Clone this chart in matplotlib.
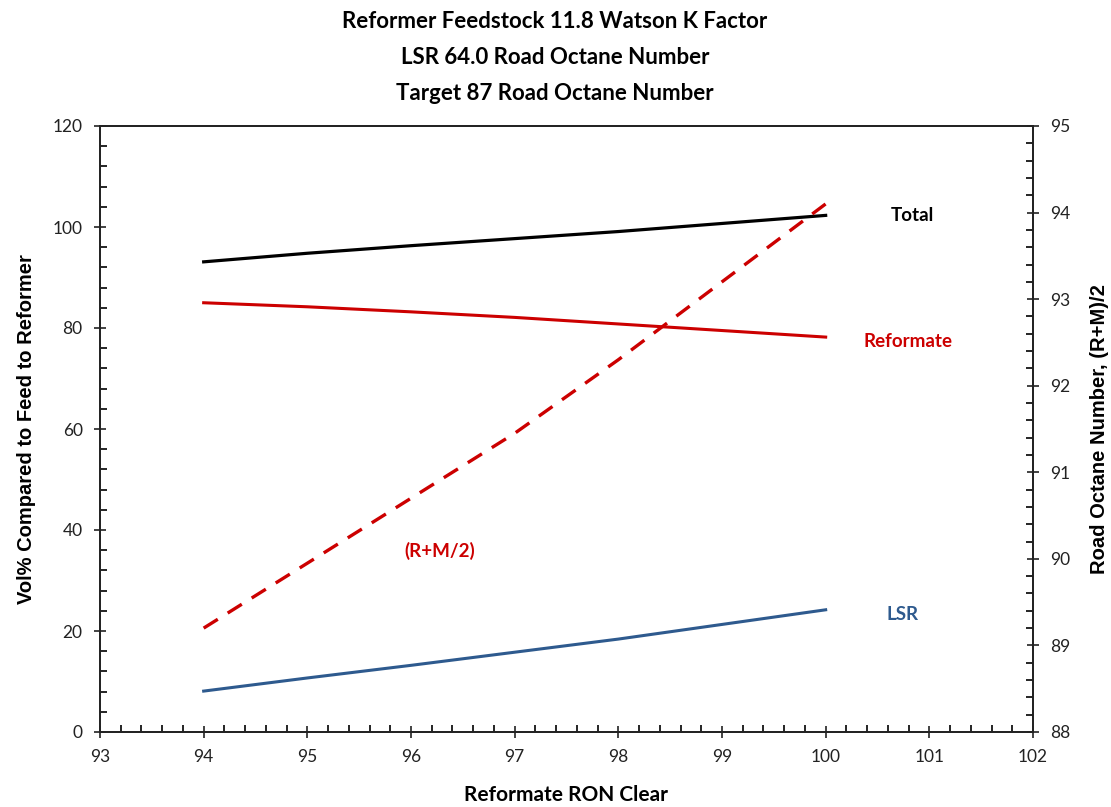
import matplotlib.pyplot as plt
from matplotlib.ticker import MultipleLocator

# data
ron = [94, 95, 96, 97, 98, 99, 100]
total = [93.1, 94.8, 96.3, 97.7, 99.1, 100.7, 102.3]
reformate = [85.0, 84.2, 83.2, 82.1, 80.8, 79.5, 78.2]
lsr = [8.1, 10.7, 13.2, 15.8, 18.4, 21.3, 24.2]
road_octane = [89.2, 89.95, 90.7, 91.45, 92.3, 93.2, 94.1]

titles = ["Reformer Feedstock 11.8 Watson K Factor",
          "LSR 64.0 Road Octane Number",
          "Target 87 Road Octane Number"]

W, H = 1111, 807
fig = plt.figure(figsize=(W / 100, H / 100), dpi=100)
ax = fig.add_axes([100 / W, 1 - 732 / H, 933 / W, 606 / H])
ax2 = ax.twinx()

red = "#CC0000"
blue = "#2E5A8E"

ax.plot(ron, total, color="black", lw=2.3)
ax.plot(ron, reformate, color=red, lw=2.2)
ax.plot(ron, lsr, color=blue, lw=2.2)
ax2.plot(ron, road_octane, color=red, lw=2.4, dashes=(5, 3.5))

ax.set_xlim(93, 102)
ax.set_ylim(0, 120)
ax2.set_ylim(88, 95)

ax.xaxis.set_major_locator(MultipleLocator(1))
ax.xaxis.set_minor_locator(MultipleLocator(0.2))
ax.yaxis.set_major_locator(MultipleLocator(20))
ax.yaxis.set_minor_locator(MultipleLocator(4))
ax2.yaxis.set_major_locator(MultipleLocator(1))
ax2.yaxis.set_minor_locator(MultipleLocator(0.2))

tick_font = "Lato"
for a in (ax, ax2):
    a.tick_params(which="major", direction="inout", length=9, width=1.2,
                  labelsize=12.5, colors="#222222")
    a.tick_params(which="minor", direction="in", length=5, width=1.2)
    for s in a.spines.values():
        s.set_linewidth(1.3)
        s.set_color("#222222")
    for lab in a.get_xticklabels() + a.get_yticklabels():
        lab.set_fontfamily(tick_font)
ax.tick_params(axis="x", which="major", pad=8)
ax.tick_params(axis="y", which="major", pad=8)
ax2.tick_params(axis="y", which="major", pad=8)

label_font = "Liberation Sans"
ax.set_xlabel("Reformate RON Clear", fontsize=15, fontweight="bold",
              fontfamily="Lato", labelpad=14)
ax.set_ylabel("Vol% Compared to Feed to Reformer", fontsize=14.5,
              fontweight="bold", fontfamily=label_font, labelpad=12)
ax2.set_ylabel("Road Octane Number, (R+M)/2", fontsize=14.5,
               fontweight="bold", fontfamily=label_font, labelpad=14)

ax.text(100.84, total[-1], "Total", color="black", fontsize=13.5,
        fontweight="bold", fontfamily="Lato", va="center", ha="center")
ax.text(100.79, reformate[-1] - 0.8, "Reformate", color=red, fontsize=13.5,
        fontweight="bold", fontfamily="Lato", va="center", ha="center")
ax.text(100.74, lsr[-1] - 1.0, "LSR", color=blue, fontsize=13.5,
        fontweight="bold", fontfamily="Lato", va="center", ha="center")
ax.text(96.28, 35.8, "(R+M/2)", color=red, fontsize=13.5,
        fontweight="bold", fontfamily="Lato", va="center", ha="center")

for i, t in enumerate(titles):
    fig.text(555 / W, 1 - (21 + 36 * i) / H, t, ha="center", va="center",
             fontsize=16, fontweight="bold", fontfamily="Lato")

fig.savefig("out.png", dpi=100, facecolor="white")
